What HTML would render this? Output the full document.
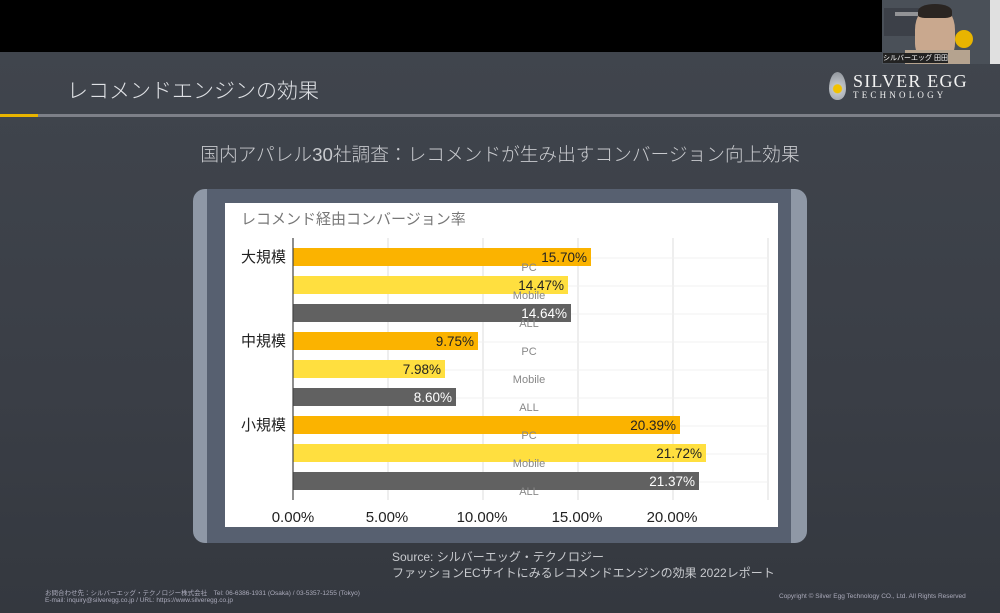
<!DOCTYPE html>
<html><head><meta charset="utf-8"><style>
*{margin:0;padding:0;box-sizing:border-box}
body{width:1000px;height:613px;overflow:hidden;background:#000;position:relative;font-family:"Liberation Sans","Noto Sans CJK JP",sans-serif}
.slide{position:absolute;left:0;top:52px;width:1000px;height:561px;background:linear-gradient(180deg,#40454d 0%,#3a3e46 60%,#34383f 100%)}
.abs{position:absolute}
.t{white-space:nowrap}
</style></head><body>
<div class="slide"></div>
<div class="abs" style="left:882px;top:0;width:118px;height:64px;background:#4a5058"></div>
<div class="abs" style="left:884px;top:8px;width:58px;height:28px;background:#3c4048"></div>
<div class="abs" style="left:895px;top:12px;width:40px;height:4px;background:#ccc;opacity:.6"></div>
<div class="abs" style="left:915px;top:5px;width:40px;height:55px;background:#c9a88e;border-radius:45% 45% 30% 30%"></div>
<div class="abs" style="left:918px;top:4px;width:34px;height:14px;background:#2a2522;border-radius:50% 50% 20% 20%"></div>
<div class="abs" style="left:905px;top:50px;width:65px;height:14px;background:#b5a38f"></div>
<div class="abs" style="left:955px;top:30px;width:18px;height:18px;background:#e8b400;border-radius:50%"></div>
<div class="abs" style="left:990px;top:0;width:10px;height:64px;background:#e0e0e0"></div>
<div class="abs t" style="left:883px;top:53px;font-size:7px;color:#fff;background:#222">シルバーエッグ 田田</div>

<div class="abs t" style="left:67px;top:75px;font-size:21px;color:#dfe1e5;font-weight:300">レコメンドエンジンの効果</div>
<div class="abs" style="left:829px;top:72px;width:17px;height:28px;background:radial-gradient(circle at 50% 60%,#f2c200 0 4px,#bfc3c8 5px,#8a8f96 100%);border-radius:50% 50% 45% 45%/60% 60% 40% 40%"></div>
<div class="abs t" style="left:853px;top:71px;font-size:18px;color:#f1f1f1;font-family:'Liberation Serif',serif;letter-spacing:1.2px">SILVER EGG</div>
<div class="abs t" style="left:853px;top:90px;font-size:9px;color:#f1f1f1;font-family:'Liberation Serif',serif;letter-spacing:3.2px">TECHNOLOGY</div>

<div class="abs" style="left:0;top:114px;width:1000px;height:3px;background:#7d8088"></div>
<div class="abs" style="left:0;top:114px;width:38px;height:3px;background:#e8b400"></div>

<div class="abs t" style="left:0;top:140px;width:1000px;text-align:center;font-size:18.7px;color:#c8cace;font-weight:300">国内アパレル30社調査：レコメンドが生み出すコンバージョン向上効果</div>

<div class="abs" style="left:193px;top:189px;width:614px;height:354px;background:#8f98a6;border-radius:12px"></div>
<div class="abs" style="left:207px;top:189px;width:584px;height:354px;background:#576070"></div>
<div class="abs" style="left:225px;top:203px;width:553px;height:324px;background:#fff"></div>

<svg class="abs" style="left:0;top:0" width="1000" height="613">
<g font-family="Liberation Sans,Noto Sans CJK JP,sans-serif">
<text x="241" y="224" font-size="15" fill="#777">レコメンド経由コンバージョン率</text>
<g stroke="#ddd" stroke-width="1">
<line x1="388" y1="238" x2="388" y2="500"/><line x1="483" y1="238" x2="483" y2="500"/><line x1="578" y1="238" x2="578" y2="500"/><line x1="673" y1="238" x2="673" y2="500"/><line x1="768" y1="238" x2="768" y2="500"/>
</g>
<g stroke="#f0f0f0"><line x1="293" y1="258" x2="768" y2="258"/><line x1="293" y1="286" x2="768" y2="286"/><line x1="293" y1="314" x2="768" y2="314"/><line x1="293" y1="342" x2="768" y2="342"/><line x1="293" y1="370" x2="768" y2="370"/><line x1="293" y1="398" x2="768" y2="398"/><line x1="293" y1="426" x2="768" y2="426"/><line x1="293" y1="454" x2="768" y2="454"/><line x1="293" y1="482" x2="768" y2="482"/></g>
<rect x="293" y="248" width="298" height="18" fill="#fbb300"/>
<rect x="293" y="276" width="275" height="18" fill="#ffdf3f"/>
<rect x="293" y="304" width="278" height="18" fill="#616161"/>
<rect x="293" y="332" width="185" height="18" fill="#fbb300"/>
<rect x="293" y="360" width="152" height="18" fill="#ffdf3f"/>
<rect x="293" y="388" width="163" height="18" fill="#616161"/>
<rect x="293" y="416" width="387" height="18" fill="#fbb300"/>
<rect x="293" y="444" width="413" height="18" fill="#ffdf3f"/>
<rect x="293" y="472" width="406" height="18" fill="#616161"/>
<line x1="293" y1="238" x2="293" y2="500" stroke="#444" stroke-width="1.2"/>
<g font-size="13.5" text-anchor="end">
<text x="587" y="262" fill="#222">15.70%</text>
<text x="564" y="290" fill="#222">14.47%</text>
<text x="567" y="318" fill="#fff">14.64%</text>
<text x="474" y="346" fill="#222">9.75%</text>
<text x="441" y="374" fill="#222">7.98%</text>
<text x="452" y="402" fill="#fff">8.60%</text>
<text x="676" y="430" fill="#222">20.39%</text>
<text x="702" y="458" fill="#222">21.72%</text>
<text x="695" y="486" fill="#fff">21.37%</text>
</g>
<g font-size="11" fill="#888" text-anchor="middle">
<text x="529" y="271">PC</text><text x="529" y="299">Mobile</text><text x="529" y="327">ALL</text>
<text x="529" y="355">PC</text><text x="529" y="383">Mobile</text><text x="529" y="411">ALL</text>
<text x="529" y="439">PC</text><text x="529" y="467">Mobile</text><text x="529" y="495">ALL</text>
</g>
<g font-size="15" fill="#222">
<text x="241" y="262">大規模</text><text x="241" y="346">中規模</text><text x="241" y="430">小規模</text>
</g>
<g font-size="15" fill="#222" text-anchor="middle">
<text x="293" y="522">0.00%</text><text x="387" y="522">5.00%</text><text x="482" y="522">10.00%</text><text x="577" y="522">15.00%</text><text x="672" y="522">20.00%</text>
</g>
</g>
</svg>

<div class="abs t" style="left:392px;top:548px;font-size:12px;color:#c8cace">Source: シルバーエッグ・テクノロジー</div>
<div class="abs t" style="left:392px;top:564px;font-size:12px;color:#c8cace">ファッションECサイトにみるレコメンドエンジンの効果 2022レポート</div>
<div class="abs t" style="left:45px;top:587px;font-size:6.5px;color:#aab">お問合わせ先：シルバーエッグ・テクノロジー株式会社　Tel: 06-6386-1931 (Osaka) / 03-5357-1255 (Tokyo)</div>
<div class="abs t" style="left:45px;top:597px;font-size:6.5px;color:#aab">E-mail: inquiry@silveregg.co.jp / URL: https://www.silveregg.co.jp</div>
<div class="abs t" style="left:779px;top:593px;font-size:6.5px;color:#aab">Copyright © Silver Egg Technology CO., Ltd. All Rights Reserved</div>
</body></html>
